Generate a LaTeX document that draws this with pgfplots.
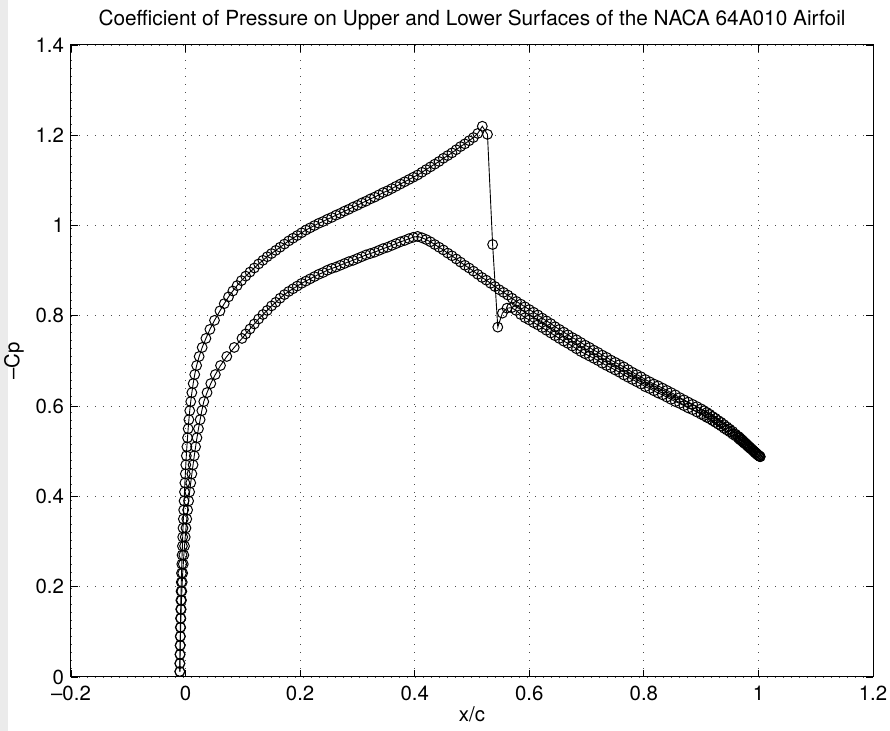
\documentclass[border=0pt]{standalone}
\usepackage{pgfplots}
\pgfplotsset{compat=1.18}
\usepackage{pgfplotstable}
\usepackage{fontspec}
\setmainfont{TeX Gyre Heros}
\pgfplotstableread{
x y
-0.0100 0.012
-0.0099 0.030
-0.0097 0.050
-0.0095 0.070
-0.0093 0.090
-0.0091 0.110
-0.0088 0.130
-0.0085 0.150
-0.0082 0.170
-0.0079 0.190
-0.0075 0.210
-0.0071 0.230
-0.0066 0.250
-0.0061 0.270
-0.0055 0.290
-0.0050 0.310
-0.0045 0.330
-0.0039 0.350
-0.0033 0.370
-0.0026 0.390
-0.0019 0.410
-0.0012 0.430
-0.0004 0.450
0.0004 0.470
0.0013 0.490
0.0023 0.510
0.0034 0.530
0.0045 0.550
0.0058 0.570
0.0073 0.590
0.0090 0.610
0.0110 0.630
0.0133 0.650
0.0160 0.670
0.0193 0.690
0.0237 0.710
0.0290 0.730
0.0355 0.750
0.0425 0.770
0.0505 0.790
0.0600 0.811
0.0675 0.827
0.0750 0.842
0.0825 0.855
0.0900 0.867
0.0975 0.878
0.1050 0.888
0.1125 0.897
0.1200 0.906
0.1275 0.915
0.1350 0.923
0.1425 0.931
0.1500 0.938
0.1575 0.945
0.1650 0.952
0.1725 0.959
0.1800 0.966
0.1875 0.972
0.1950 0.978
0.2025 0.984
0.2100 0.990
0.2175 0.995
0.2250 1.000
0.2325 1.005
0.2400 1.009
0.2475 1.014
0.2550 1.018
0.2625 1.023
0.2700 1.027
0.2775 1.032
0.2850 1.036
0.2925 1.041
0.3000 1.045
0.3075 1.050
0.3150 1.054
0.3225 1.059
0.3300 1.063
0.3375 1.068
0.3450 1.073
0.3525 1.077
0.3600 1.082
0.3675 1.087
0.3750 1.092
0.3825 1.097
0.3900 1.102
0.3975 1.107
0.4050 1.112
0.4125 1.118
0.4200 1.124
0.4275 1.130
0.4350 1.136
0.4425 1.142
0.4500 1.149
0.4575 1.155
0.4650 1.161
0.4725 1.168
0.4800 1.175
0.4875 1.181
0.4950 1.188
0.5025 1.195
0.5100 1.204
0.5180 1.220
0.5270 1.202
0.5360 0.958
0.5450 0.775
0.5530 0.806
0.5610 0.817
0.5690 0.818
0.5770 0.812
0.5850 0.803
0.5925 0.796
0.6000 0.791
0.6075 0.785
0.6150 0.780
0.6225 0.774
0.6300 0.768
0.6375 0.762
0.6450 0.756
0.6525 0.750
0.6600 0.744
0.6675 0.739
0.6750 0.733
0.6825 0.727
0.6900 0.721
0.6975 0.716
0.7050 0.711
0.7125 0.706
0.7200 0.701
0.7275 0.695
0.7350 0.690
0.7425 0.685
0.7500 0.680
0.7575 0.675
0.7650 0.669
0.7725 0.664
0.7800 0.659
0.7875 0.654
0.7950 0.649
0.8025 0.643
0.8100 0.639
0.8175 0.634
0.8250 0.629
0.8325 0.625
0.8400 0.620
0.8475 0.615
0.8550 0.610
0.8625 0.606
0.8700 0.601
0.8775 0.596
0.8850 0.592
0.8925 0.587
0.9000 0.582
0.9050 0.579
0.9100 0.575
0.9150 0.572
0.9200 0.568
0.9250 0.564
0.9300 0.560
0.9350 0.556
0.9400 0.551
0.9450 0.547
0.9500 0.543
0.9550 0.538
0.9600 0.534
0.9650 0.529
0.9675 0.526
0.9700 0.524
0.9725 0.521
0.9750 0.518
0.9775 0.516
0.9800 0.513
0.9825 0.510
0.9850 0.507
0.9875 0.505
0.9900 0.502
0.9920 0.500
0.9940 0.497
0.9960 0.495
0.9980 0.493
1.0000 0.491
1.0015 0.4895
1.0030 0.488
}\upperdata
\pgfplotstableread{
x y
-0.0100 0.012
-0.0099 0.030
-0.0096 0.050
-0.0093 0.070
-0.0090 0.090
-0.0086 0.110
-0.0082 0.130
-0.0077 0.150
-0.0071 0.170
-0.0065 0.190
-0.0058 0.210
-0.0050 0.230
-0.0040 0.250
-0.0030 0.270
-0.0018 0.290
-0.0006 0.310
0.0007 0.330
0.0021 0.350
0.0036 0.370
0.0053 0.390
0.0071 0.410
0.0090 0.430
0.0110 0.450
0.0131 0.470
0.0152 0.490
0.0175 0.510
0.0199 0.530
0.0225 0.550
0.0254 0.570
0.0284 0.590
0.0318 0.610
0.0375 0.630
0.0440 0.650
0.0520 0.670
0.0610 0.690
0.0720 0.710
0.0850 0.730
0.0985 0.750
0.1050 0.760
0.1125 0.771
0.1200 0.782
0.1275 0.793
0.1350 0.803
0.1425 0.812
0.1500 0.822
0.1575 0.830
0.1650 0.839
0.1725 0.847
0.1800 0.854
0.1875 0.860
0.1950 0.866
0.2025 0.872
0.2100 0.877
0.2175 0.882
0.2250 0.887
0.2325 0.892
0.2400 0.896
0.2475 0.901
0.2550 0.905
0.2625 0.908
0.2700 0.912
0.2775 0.916
0.2850 0.920
0.2925 0.923
0.3000 0.927
0.3075 0.931
0.3150 0.935
0.3225 0.938
0.3300 0.941
0.3375 0.945
0.3450 0.949
0.3525 0.952
0.3600 0.956
0.3675 0.960
0.3750 0.964
0.3825 0.967
0.3900 0.971
0.3975 0.974
0.4050 0.976
0.4125 0.973
0.4200 0.969
0.4275 0.964
0.4350 0.958
0.4425 0.952
0.4500 0.946
0.4575 0.939
0.4650 0.933
0.4725 0.926
0.4800 0.919
0.4875 0.912
0.4950 0.906
0.5025 0.899
0.5100 0.892
0.5175 0.885
0.5250 0.879
0.5325 0.872
0.5400 0.865
0.5475 0.858
0.5550 0.852
0.5625 0.846
0.5700 0.839
0.5775 0.832
0.5850 0.826
0.5925 0.820
0.6000 0.814
0.6075 0.808
0.6150 0.802
0.6225 0.795
0.6300 0.789
0.6375 0.783
0.6450 0.776
0.6525 0.770
0.6600 0.764
0.6675 0.758
0.6750 0.752
0.6825 0.747
0.6900 0.741
0.6975 0.735
0.7050 0.730
0.7125 0.724
0.7200 0.719
0.7275 0.713
0.7350 0.708
0.7425 0.702
0.7500 0.697
0.7575 0.692
0.7650 0.687
0.7725 0.681
0.7800 0.675
0.7875 0.670
0.7950 0.665
0.8025 0.659
0.8100 0.654
0.8175 0.649
0.8250 0.645
0.8325 0.640
0.8400 0.635
0.8475 0.630
0.8550 0.625
0.8625 0.619
0.8700 0.614
0.8775 0.609
0.8850 0.604
0.8925 0.599
0.9000 0.594
0.9050 0.590
0.9100 0.586
0.9150 0.582
0.9200 0.577
0.9250 0.573
0.9300 0.568
0.9350 0.564
0.9400 0.559
0.9450 0.554
0.9500 0.549
0.9550 0.544
0.9600 0.538
0.9650 0.533
0.9675 0.530
0.9700 0.527
0.9725 0.524
0.9750 0.521
0.9775 0.518
0.9800 0.515
0.9825 0.512
0.9850 0.509
0.9875 0.506
0.9900 0.503
0.9920 0.500
0.9940 0.498
0.9960 0.496
0.9980 0.493
1.0000 0.491
1.0015 0.4895
1.0030 0.488
}\lowerdata
\begin{document}
\begin{tikzpicture}
\fill[black!8] (-35.5pt,-27pt) rectangle (-31.5pt,338.5pt);
\begin{axis}[
  at={(0,0)}, anchor=south west,
  width=401pt, height=316pt, scale only axis,
  xmin=-0.2, xmax=1.2, ymin=0, ymax=1.4,
  xtick={-0.2,0,0.2,0.4,0.6,0.8,1,1.2},
  xticklabels={--0.2,0,0.2,0.4,0.6,0.8,1,1.2},
  ytick={0,0.2,0.4,0.6,0.8,1,1.2,1.4},
  yticklabels={0,0.2,0.4,0.6,0.8,1,1.2,1.4},
  tick align=inside, major tick length=3.5pt,
  tick style={black, line width=0.4pt},
  axis line style={line width=0.5pt},
  grid=major,
  major grid style={black!70, line width=0.4pt, dash pattern=on 0.4pt off 3.6pt},
  font=\fontsize{10.2pt}{12pt}\selectfont,
  ticklabel style={font=\fontsize{10.2pt}{12pt}\selectfont},
  xticklabel style={yshift=-1pt},
  title={Coefficient of Pressure on Upper and Lower Surfaces of the NACA 64A010 Airfoil},
  title style={yshift=-2pt, font=\fontsize{10.4pt}{12pt}\selectfont},
  xlabel={x/c}, ylabel={--Cp},
  xlabel style={yshift=4pt},
  ylabel style={yshift=-1pt},
  clip=false,
]
\addplot[black, line width=0.45pt, mark=o, mark size=2.45pt, mark options={line width=0.5pt}] table[x=x,y=y] {\upperdata};
\addplot[black, line width=0.45pt, mark=o, mark size=2.45pt, mark options={line width=0.5pt}] table[x=x,y=y] {\lowerdata};
\end{axis}
\pgfresetboundingbox
\path[use as bounding box] (-35.5pt,-27pt) rectangle (409.5pt,338.5pt);
\end{tikzpicture}
\end{document}
